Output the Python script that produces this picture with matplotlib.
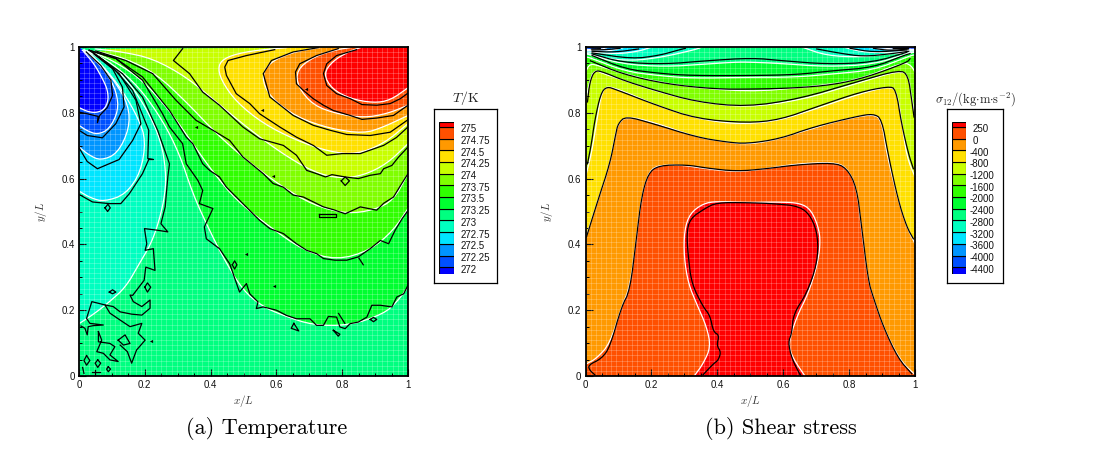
#!/usr/bin/python
# coding: utf-8

r"""Temperature and shear stress in a square cavity, isolines read off the figure"""

import matplotlib
matplotlib.use("Agg")
import matplotlib.pyplot as plt
import numpy as np

# colours of the 14 legend bands, lowest band first
band_colors = ['#0000ff', '#0050ff', '#0095ff', '#00e5ff', '#00ffc0', '#00ff80', '#00ff30',
               '#30ff00', '#80ff00', '#c8ff00', '#ffe000', '#ff9900', '#ff5000', '#ff0000']

t_labels = ['272', '272.25', '272.5', '272.75', '273', '273.25', '273.5',
            '273.75', '274', '274.25', '274.5', '274.75', '275']
s_labels = ['-4400', '-4000', '-3600', '-3200', '-2800', '-2400', '-2000',
            '-1600', '-1200', '-800', '-400', '0', '250']

# temperature, smooth isolines (x list, y list)
t_w_272 = ([0, .025, .051, .076, .089, .087, .074, .046, .015],
           [.816, .804, .800, .809, .836, .868, .899, .949, .985])
t_w_27225 = ([0, .025, .056, .092, .120, .114, .086, .041, .010],
             [.762, .745, .734, .750, .807, .863, .919, .969, .990])
t_w_2725 = ([0, .031, .066, .117, .153, .151, .107, .056, .015],
            [.696, .671, .655, .676, .752, .823, .899, .957, .990])
t_w_27275 = ([0, .036, .076, .142, .188, .203, .181, .132, .076, .025],
             [.562, .541, .530, .552, .620, .716, .782, .868, .939, .988])
t_w_273 = ([0, .046, .092, .142, .183, .219, .244, .262, .264, .249, .203, .132, .051, .015],
           [.159, .189, .225, .270, .341, .402, .473, .554, .625, .716, .818, .919, .974, .992])
t_w_27325 = ([1, .966, .926, .824, .712, .621, .560, .498, .437, .387, .346, .305, .254, .183, .102, .031],
             [.270, .225, .189, .154, .154, .184, .210, .260, .362, .463, .554, .676, .777, .878, .949, .988])
t_w_2735 = ([1, .956, .885, .783, .682, .580, .478, .407, .346, .275, .193, .112, .041],
            [.509, .443, .382, .352, .382, .453, .534, .620, .706, .807, .899, .954, .985])
t_w_27375 = ([1, .956, .895, .814, .712, .610, .509, .417, .326, .234, .142, .051],
             [.615, .534, .504, .493, .519, .580, .656, .737, .833, .919, .965, .988])
t_w_274 = ([1, .936, .865, .793, .712, .610, .509, .417, .326, .224, .132, .051],
           [.706, .645, .610, .600, .620, .681, .757, .833, .909, .965, .985, .994])
t_w_27425 = ([1, .926, .844, .763, .661, .560, .478, .432, .422, .448, .519, .631],
             [.767, .706, .674, .681, .716, .767, .833, .899, .944, .970, .988, .998])
t_w_2745 = ([1, .926, .865, .763, .661, .580, .554, .580, .651, .732],
            [.792, .757, .737, .752, .787, .848, .909, .954, .985, .998])
t_w_27475 = ([1, .936, .865, .783, .712, .666, .661, .712, .783, .824],
             [.823, .797, .785, .797, .823, .878, .929, .970, .992, .998])
t_w_275 = ([1, .946, .895, .824, .768, .743, .773, .824, .855],
           [.876, .838, .830, .843, .873, .919, .959, .988, .998])

# temperature, rough isolines
t_b_272 = ([0, .025, .058, .056, .063, .086, .102, .097, .066, .022],
           [.802, .797, .789, .770, .792, .816, .853, .899, .944, .985])
t_b_27225 = ([0, .025, .071, .112, .137, .132, .102, .046],
             [.747, .731, .724, .767, .818, .878, .934, .978])
t_b_2725 = ([0, .025, .056, .122, .163, .188, .173, .122, .061],
            [.694, .652, .630, .658, .716, .767, .838, .919, .970])
t_b_27275 = ([0, .041, .092, .127, .153, .193, .212, .226, .209, .212, .163, .102, .041],
             [.552, .529, .524, .524, .554, .615, .658, .658, .661, .747, .868, .939, .985])
t_b_275 = ([.844, .783, .753, .743, .753, .783, .824, .860, .905, .946, .977, 1],
           [.992, .974, .949, .919, .883, .858, .843, .825, .823, .828, .843, .860])
t_b_27475 = ([.788, .722, .671, .658, .661, .682, .712, .743, .773, .824, .860, .905, .956, 1],
             [.995, .974, .949, .924, .888, .868, .843, .823, .807, .792, .780, .784, .792, .823])
t_b_2745 = ([.727, .651, .585, .560, .580, .651, .712, .763, .814, .885, .946, 1],
            [.998, .985, .959, .919, .848, .792, .762, .747, .734, .731, .741, .779])
t_b_27425 = ([.595, .509, .453, .443, .448, .478, .519, .549, .610, .661, .712, .753, .800, .855, .926, .965, 1],
             [.992, .974, .959, .939, .914, .858, .828, .797, .757, .726, .701, .671, .676, .676, .701, .725, .757])
t_b_274 = ([.315, .287, .336, .376, .427, .498, .549, .621, .661, .692, .722, .749, .769, .809, .849, .885, .916,
            .926, .951, .971, 1],
           [.995, .959, .919, .863, .823, .757, .721, .701, .671, .625, .615, .605, .612, .605, .600, .610, .615,
            .630, .640, .665, .696])
t_b_27375 = ([1, .981, .956, .926, .905, .855, .809, .775, .743, .682, .651, .621, .590, .560, .498, .458, .407, .356,
              .295, .224, .142, .051],
             [.615, .585, .544, .525, .504, .514, .493, .505, .514, .544, .550, .574, .585, .615, .666, .716, .747, .777,
              .838, .919, .959, .988])
t_b_2735 = ([1, .982, .961, .941, .916, .885, .849, .814, .778, .743, .722, .692, .661, .621, .580, .549, .519, .498,
             .478, .448, .427, .397, .376, .346, .326, .275, .193, .112, .031],
            [.503, .478, .443, .402, .412, .387, .362, .352, .352, .357, .372, .382, .402, .433, .448, .473, .503, .524,
             .544, .574, .605, .625, .645, .706, .726, .807, .909, .965, .990])
t_b_27325 = ([1, .987, .966, .951, .916, .890, .875, .849, .824, .809, .793, .783, .758, .743, .722, .702, .661, .631,
              .600, .560, .539, .544, .519, .509, .488, .458, .427, .387, .381, .407, .366, .376, .361, .326, .315,
              .275, .254, .193, .112, .031],
             [.276, .250, .240, .210, .215, .215, .179, .164, .159, .144, .149, .179, .181, .154, .154, .174, .174, .184,
              .200, .210, .205, .225, .250, .281, .255, .341, .387, .417, .453, .509, .524, .564, .595, .645, .706,
              .757, .797, .899, .965, .990])
t_b_273 = ([.031, .132, .193, .239, .275, .270, .262, .249, .270, .239, .199, .206, .201, .226, .231, .203, .198, .163,
            .155, .165, .191, .216, .216, .191, .160, .125, .104, .079, .094, .125, .155, .191, .180, .201, .175, .160,
            .147, .125],
           [.990, .919, .848, .747, .645, .605, .514, .463, .438, .443, .448, .402, .382, .387, .321, .331, .291, .245,
            .246, .226, .211, .231, .206, .185, .188, .195, .211, .216, .191, .170, .150, .160, .130, .109, .079, .039,
            .074, .094])
t_b_left = ([.006, .018, .025, .028, .043, .074, .033, .023, .039, .059, .079],
            [.152, .145, .125, .150, .153, .155, .160, .175, .226, .221, .216])
t_b_patch = ([.059, .059, .094, .109, .094, .119, .094, .074, .054, .069, .059],
             [.135, .104, .099, .089, .064, .044, .049, .069, .074, .109, .135])
t_b_box = ([.119, .140, .155, .135, .119], [.109, .125, .099, .094, .109])
t_b_isl1 = ([.023, .033, .023, .015, .023], [.062, .047, .033, .047, .062])
t_b_isl2 = ([.057, .066, .057, .049, .057], [.049, .039, .026, .039, .049])
t_b_isl3 = ([.089, .096, .089, .084, .089], [.028, .021, .013, .021, .028])
t_b_isl4 = ([.092, .102, .112, .102, .092], [.255, .262, .255, .250, .255])
t_b_isl5 = ([.797, .809, .822, .809, .797], [.593, .605, .593, .579, .593])
t_b_isl6 = ([.728, .780, .780, .728, .728], [.492, .492, .483, .483, .492])
t_b_isl7 = ([.079, .088, .095, .087, .079], [.511, .522, .511, .500, .511])
t_b_isl8 = ([.466, .473, .480, .473, .466], [.338, .350, .338, .325, .338])
t_b_isl9 = ([.200, .208, .218, .208, .200], [.270, .283, .270, .255, .270])
t_b_isl10 = ([.885, .895, .905, .895, .885], [.172, .178, .172, .165, .172])
t_b_isl11 = ([.653, .645, .668, .653], [.160, .145, .137, .160])
t_b_isl12 = ([.773, .793, .788, .773], [.139, .127, .121, .139])
t_b_stub1 = ([.789, .808], [.190, .160])
t_b_stub2 = ([.851, .864], [.358, .338])
t_b_stub3 = ([.011, .015], [.026, .008])
t_b_stub4 = ([.039, .064], [.011, .011])
t_b_stub5 = ([.050, .050], [.018, 0])
t_speck_x = [.690, .557, .356, .590, .509, .593, .219]
t_speck_y = [.873, .807, .757, .607, .372, .274, .106]

# shear stress, smooth isolines
s_w_250 = ([.330, .357, .380, .368, .337, .312, .299, .300, .317, .357, .398, .489, .580, .651, .686, .710, .712, .702,
            .676, .641, .615, .630, .666],
           [0, .037, .088, .149, .220, .281, .362, .443, .494, .524, .531, .527, .529, .526, .504, .443, .393, .332,
            .251, .180, .098, .053, 0])
s_w_0 = ([.003, .033, .074, .109, .135, .155, .170, .190, .215, .286, .367, .458, .549, .640, .752, .792, .823, .838,
          .858, .873, .904, .954, 1],
         [.037, .053, .098, .209, .271, .423, .544, .615, .640, .642, .630, .620, .630, .645, .650, .635, .574, .443,
          .291, .240, .149, .048, .004])
s_w_400 = ([0, .034, .069, .089, .097, .122, .205, .337, .428, .489, .570, .671, .772, .873, .899, .914, .949, .975, 1],
           [.417, .524, .625, .726, .762, .790, .772, .726, .711, .704, .716, .747, .777, .797, .777, .676, .534, .453, .402])
s_w_800 = ([0, .018, .033, .046, .059, .079, .134, .215, .307, .398, .489, .590, .701, .833, .919, .944, .959, .975, 1],
           [.605, .676, .767, .848, .878, .878, .858, .823, .792, .772, .766, .777, .813, .858, .880, .868, .777, .666, .605])
s_w_1200 = ([0, .013, .028, .054, .115, .205, .337, .489, .651, .823, .954, .979, .990, 1],
            [.833, .899, .931, .919, .899, .868, .833, .816, .838, .889, .929, .914, .848, .787])
s_w_1600 = ([0, .013, .038, .114, .266, .489, .671, .823, .965, .988, 1],
            [.924, .949, .944, .919, .884, .863, .878, .898, .954, .944, .924])
s_w_2000 = ([0, .012, .121, .222, .323, .495, .631, .752, .874, .975, .995, 1],
            [.970, .968, .926, .913, .905, .908, .908, .918, .930, .969, .976, .975])
s_w_2400 = ([0, .111, .242, .364, .455, .499, .590, .732, .873, .975, 1],
            [.980, .948, .940, .948, .954, .954, .950, .940, .947, .979, .985])
s_w_2800_l = ([0, .015, .050, .141, .232, .333, .354], [.980, .979, .966, .958, .969, .992, 1])
s_w_2800_r = ([.656, .731, .833, .924, .975, 1], [1, .974, .969, .980, .981, .985])
s_w_3200_l = ([0, .019, .100, .161, .202], [.985, .984, .979, .987, 1])
s_w_3200_r = ([.782, .843, .934, .981, 1], [1, .984, .984, .987, .988])
s_w_3600_l = ([0, .015, .070, .121], [.990, .989, .987, 1])
s_w_3600_r = ([.853, .914, .975, 1], [1, .991, .990, .990])
s_w_4000_l = ([0, .015, .045, .070], [.993, .992, .992, 1])
s_w_4000_r = ([.889, .924, .975, 1], [1, .994, .993, .993])
s_w_4400_r = ([.944, .975, 1], [1, .996, .996])

# shear stress, rough isolines
s_b_250 = ([.357, .388, .403, .411, .398, .406, .388, .378, .357, .322, .312, .307, .317, .362, .398, .489, .570, .651,
            .686, .706, .703, .671, .631, .626, .615, .626, .651],
           [.004, .037, .048, .073, .093, .124, .134, .184, .210, .281, .362, .433, .478, .509, .527, .527, .524, .516,
            .483, .423, .341, .250, .189, .129, .103, .053, .004])
s_b_0 = ([.028, .013, .008, .049, .074, .109, .135, .155, .170, .190, .221, .307, .367, .458, .549, .641, .752, .792,
          .823, .838, .858, .873, .904, .949, .990],
         [.004, .017, .033, .053, .088, .210, .260, .423, .544, .615, .640, .642, .632, .622, .630, .642, .648, .633,
          .574, .453, .291, .240, .149, .053, .007])
s_b_400 = ([.003, .038, .074, .092, .099, .122, .205, .337, .428, .489, .590, .691, .823, .873, .899, .919, .949, .975, .995],
           [.423, .535, .645, .737, .767, .790, .767, .726, .711, .706, .721, .757, .789, .797, .782, .671, .534, .453, .417])
s_b_800 = ([.006, .018, .028, .046, .064, .094, .215, .337, .489, .590, .701, .833, .919, .942, .959, .980, .995],
           [.645, .706, .777, .858, .880, .870, .823, .782, .769, .779, .818, .863, .880, .873, .767, .676, .630])
s_b_1200 = ([.006, .013, .028, .054, .114, .205, .337, .489, .651, .823, .954, .979, .990, .997],
            [.833, .894, .929, .924, .899, .870, .833, .818, .843, .894, .931, .914, .838, .787])
s_b_1600 = ([.015, .111, .242, .394, .505, .631, .752, .853, .975, .985],
            [.958, .918, .888, .872, .872, .875, .885, .908, .953, .964])
s_b_2000 = ([.020, .121, .222, .323, .505, .641, .752, .874, .965, .985],
            [.974, .933, .920, .913, .913, .916, .928, .938, .974, .980])
s_b_2400 = ([.020, .111, .242, .364, .505, .600, .732, .873, .975],
            [.979, .953, .948, .958, .967, .958, .948, .953, .984])
s_b_2800_l = ([.020, .141, .222, .283, .303], [.982, .964, .974, .991, .996])
s_b_2800_r = ([.702, .772, .843, .924, .981], [.994, .981, .971, .979, .987])
s_b_3200_l = ([.020, .090, .161], [.987, .984, .994])
s_b_3200_r = ([.803, .874, .975], [.996, .984, .991])
s_b_3600_l = ([.020, .065, .105], [.991, .992, .996])
s_b_3600_r = ([.874, .924, .980], [.996, .989, .994])
s_b_4000_l = ([.018, .045], [.994, .995])
s_b_4000_r = ([.934, .980], [.995, .996])

FIG_W, FIG_H = 1109, 462


def rect_px(left, top, right, bottom):
    r"""Figure fraction rectangle from pixel edges"""
    return [left / FIG_W, 1 - bottom / FIG_H, (right - left) / FIG_W, (bottom - top) / FIG_H]


def rounded(line, passes=2):
    r"""Round the corners of a polyline (corner cutting), end points stay put"""
    pts = np.column_stack(line).astype(float)
    for _ in range(passes):
        near = .75 * pts[:-1] + .25 * pts[1:]
        far = .25 * pts[:-1] + .75 * pts[1:]
        mid = np.empty((2 * len(near), 2))
        mid[0::2] = near
        mid[1::2] = far
        pts = np.vstack([pts[:1], mid, pts[-1:]])
    return pts[:, 0], pts[:, 1]


def fill_band(ax, line, color, corners):
    r"""Fill one side of an isoline, closed through the given domain corners"""
    x, y = rounded(line)
    xs = list(x) + [c[0] for c in corners]
    ys = list(y) + [c[1] for c in corners]
    ax.fill(xs, ys, color=color, lw=0, zorder=1)


def style_field(ax, xlabel, ylabel):
    ax.set_xlim(0, 1)
    ax.set_ylim(0, 1)
    ax.set_xticks(np.arange(0, 1.01, .2), ['0', '0.2', '0.4', '0.6', '0.8', '1'])
    ax.set_yticks(np.arange(0, 1.01, .2), ['0', '0.2', '0.4', '0.6', '0.8', '1'])
    ax.set_xticks(np.arange(0, 1.01, .05), minor=True)
    ax.set_yticks(np.arange(0, 1.01, .05), minor=True)
    ax.tick_params(which='major', direction='in', length=4.7, width=.8, labelsize=7, pad=3, colors='#111111')
    ax.tick_params(which='minor', direction='in', length=2.3, width=.7)
    for lab in ax.get_xticklabels() + ax.get_yticklabels():
        lab.set_family('Liberation Sans')
    for spine in ax.spines.values():
        spine.set_linewidth(1.3)
        spine.set_zorder(6)
    ax.set_xlabel(xlabel, fontsize=8, labelpad=2, color='#333333')
    ax.set_ylabel(ylabel, fontsize=8, labelpad=9, color='#333333')
    # mesh of the computation
    mesh = np.linspace(0, 1, 65)
    ax.vlines(mesh, 0, 1, color='white', alpha=.3, lw=.5, zorder=2)
    ax.hlines(mesh, 0, 1, color='white', alpha=.3, lw=.5, zorder=2)


def draw_lines(ax, lines, color, passes=0):
    for line in lines:
        x, y = rounded(line, passes)
        ax.plot(x, y, color=color, lw=.9, zorder=4 if color == 'black' else 3,
                solid_joinstyle='round')


def draw_legend(box_rect, swatch_rect, labels, title, title_px, title_size):
    box = fig.add_axes(rect_px(*box_rect))
    box.set_xticks([])
    box.set_yticks([])
    for spine in box.spines.values():
        spine.set_linewidth(.9)
    sw = fig.add_axes(rect_px(*swatch_rect))
    edges = np.r_[-.55, np.arange(len(labels)), len(labels) - 1 + .45]
    sw.bar(np.zeros(len(band_colors)), np.diff(edges), bottom=edges[:-1], width=1,
           color=band_colors, edgecolor='black', lw=.8)
    sw.set_xlim(-.5, .5)
    sw.set_ylim(edges[0], edges[-1])
    sw.axis('off')
    for i, lab in enumerate(labels):
        dx = 4 if lab.startswith('-') else 7
        sw.annotate(lab, (1, i - .2), xycoords=('axes fraction', 'data'), xytext=(dx, 0),
                    textcoords='offset pixels', va='center', fontsize=7,
                    family='Liberation Sans', color='#111111')
    fig.text(title_px[0] / FIG_W, 1 - title_px[1] / FIG_H, title, fontsize=title_size,
             ha='center', va='center', color='#222222')


plt.rcParams['mathtext.fontset'] = 'cm'
fig = plt.figure(figsize=(FIG_W / 100, FIG_H / 100), dpi=100)

# (a) temperature
ax_t = fig.add_axes(rect_px(79, 47, 408, 376))
ax_t.fill([0, 1, 1, 0], [0, 0, 1, 1], color=band_colors[5], lw=0, zorder=0)
t_high = [t_w_27325, t_w_2735, t_w_27375, t_w_274, t_w_27425, t_w_2745, t_w_27475, t_w_275]
t_low = [t_w_273, t_w_27275, t_w_2725, t_w_27225, t_w_272]
for k, line in enumerate(t_high):
    fill_band(ax_t, line, band_colors[6 + k], [(1, 1)])
for k, line in enumerate(t_low):
    fill_band(ax_t, line, band_colors[4 - k], [(0, 1)])
draw_lines(ax_t, t_high + t_low, 'white', passes=2)
draw_lines(ax_t, [t_b_272, t_b_27225, t_b_2725, t_b_27275, t_b_275, t_b_27475, t_b_2745, t_b_27425, t_b_274,
                  t_b_27375, t_b_2735, t_b_27325, t_b_273,
                  t_b_left, t_b_patch, t_b_box, t_b_isl1, t_b_isl2, t_b_isl3, t_b_isl4, t_b_isl5, t_b_isl6,
                  t_b_isl7, t_b_isl8, t_b_isl9, t_b_isl10, t_b_isl11, t_b_isl12, t_b_stub1, t_b_stub2,
                  t_b_stub3, t_b_stub4, t_b_stub5], 'black')
ax_t.plot(t_speck_x, t_speck_y, ls='none', marker='<', ms=2.3, color='black', mew=0, zorder=4)
style_field(ax_t, r'$x/L$', r'$y/L$')
ax_t.text(.57, -.16, '(a) Temperature', transform=ax_t.transAxes, family='cmr10', fontsize=16,
          ha='center', va='center')

# (b) shear stress
ax_s = fig.add_axes(rect_px(585.5, 47, 915, 376))
ax_s.fill([0, 1, 1, 0], [0, 0, 1, 1], color=band_colors[12], lw=0, zorder=0)
fill_band(ax_s, s_w_250, band_colors[13], [])
s_full = [s_w_0, s_w_400, s_w_800, s_w_1200, s_w_1600, s_w_2000, s_w_2400]
for k, line in enumerate(s_full):
    fill_band(ax_s, line, band_colors[11 - k], [(1, 1), (0, 1)])
s_lobes = [(s_w_2800_l, s_w_2800_r), (s_w_3200_l, s_w_3200_r), (s_w_3600_l, s_w_3600_r), (s_w_4000_l, s_w_4000_r)]
for k, (left, right) in enumerate(s_lobes):
    fill_band(ax_s, left, band_colors[4 - k], [(0, 1)])
    fill_band(ax_s, right, band_colors[4 - k], [(1, 1)])
fill_band(ax_s, s_w_4400_r, band_colors[0], [(1, 1)])
draw_lines(ax_s, [s_w_250] + s_full + [ln for pair in s_lobes for ln in pair], 'white', passes=2)
draw_lines(ax_s, [s_b_250, s_b_0, s_b_400, s_b_800, s_b_1200, s_b_1600, s_b_2000, s_b_2400, s_b_2800_l, s_b_2800_r,
                  s_b_3200_l, s_b_3200_r, s_b_3600_l, s_b_3600_r, s_b_4000_l, s_b_4000_r], 'black', passes=2)
style_field(ax_s, r'$x/L$', r'$y/L$')
ax_s.text(.592, -.16, '(b) Shear stress', transform=ax_s.transAxes, family='cmr10', fontsize=16,
          ha='center', va='center')

draw_legend((433.5, 109, 496.5, 283), (439, 121.7, 453.7, 273.7), t_labels, r'$T/\mathrm{K}$', (466, 98), 10)
draw_legend((946.5, 109, 1002.5, 282.5), (951.7, 121.7, 965.7, 273.7), s_labels,
            r'$\sigma_{12}/(\mathrm{kg{\cdot}m{\cdot}s^{-2}})$', (975.5, 99), 9)

fig.savefig('out.png', dpi=100)
